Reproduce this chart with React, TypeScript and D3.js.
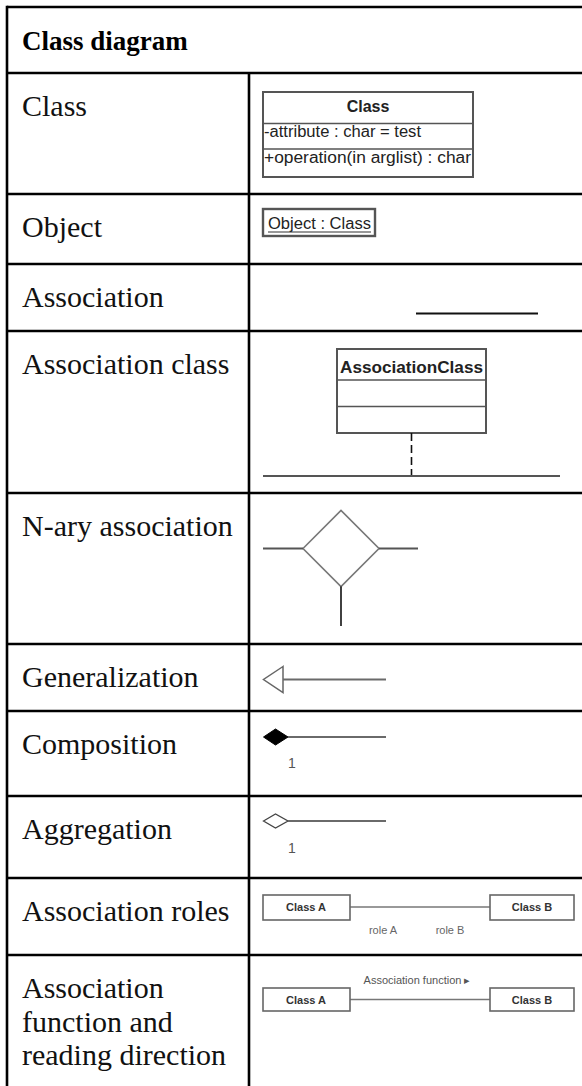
import React, { useEffect } from 'react';
import * as d3 from 'd3';

// table content
const title = 'Class diagram';
const rowLabels = [
  'Class',
  'Object',
  'Association',
  'Association class',
  'N-ary association',
  'Generalization',
  'Composition',
  'Aggregation',
  'Association roles',
  'Association\nfunction and\nreading direction',
];
const classParts = ['Class', '-attribute : char = test', '+operation(in arglist) : char'];
const objectName = 'Object : Class';
const assocClassName = 'AssociationClass';
const multiplicity = ['1', '1'];
const roleClasses = ['Class A', 'Class B'];
const roleNames = ['role A', 'role B'];
const assocFunction = 'Association function \u25B8';

// layout
const W = 582;
const H = 1086;
const tableLeft = 7;
const tableTop = 7;
const colX = 249;
const rowTops = [73, 194, 264, 331, 493, 644, 711, 796, 878, 955];
const x0 = 263; // left of the diagram column content

const serif = '"Liberation Serif", "Times New Roman", serif';
const sans = '"Liberation Sans", Arial, sans-serif';
const grey = '#6a6a6a';

const line = d3.line<[number, number]>();

const App = () => {
  useEffect(() => {
    document.body.style.margin = '0';
  }, []);

  const y = (i: number) => rowTops[i];

  return (
    <svg width={W} height={H} style={{ display: 'block', background: '#fff' }}>
      {/* grid */}
      <g stroke="#000" strokeWidth={2.6}>
        <line x1={tableLeft} x2={W} y1={tableTop} y2={tableTop} />
        {rowTops.map((t) => (
          <line key={t} x1={tableLeft} x2={W} y1={t} y2={t} />
        ))}
        <line x1={tableLeft} x2={tableLeft} y1={tableTop - 1.3} y2={H} />
        <line x1={colX} x2={colX} y1={rowTops[0]} y2={H} />
      </g>

      <text x={22} y={tableTop + 43} fontFamily={serif} fontWeight="bold" fontSize={27}>
        {title}
      </text>
      {rowLabels.map((lab, i) => (
        <text key={i} x={22} y={y(i) + 43} fontFamily={serif} fontSize={30} fill="#111">
          {lab.split('\n').map((s, j) => (
            <tspan key={j} x={22} dy={j === 0 ? 0 : 33.5}>
              {s}
            </tspan>
          ))}
        </text>
      ))}

      <g fontFamily={sans} fill="#222">
        {/* Class */}
        <g transform={`translate(${x0},${y(0)})`}>
          <rect x={0} y={19} width={210} height={85} fill="#fff" stroke="#555" strokeWidth={2} />
          <line x1={0} x2={210} y1={50.5} y2={50.5} stroke="#555" strokeWidth={1.6} />
          <line x1={0} x2={210} y1={76} y2={76} stroke="#555" strokeWidth={1.6} />
          <text x={105} y={39} textAnchor="middle" fontWeight="bold" fontSize={16}>
            {classParts[0]}
          </text>
          <text x={1} y={64} fontSize={16} textLength={157} lengthAdjust="spacingAndGlyphs">
            {classParts[1]}
          </text>
          <text x={1} y={90} fontSize={16} textLength={207} lengthAdjust="spacingAndGlyphs">
            {classParts[2]}
          </text>
        </g>

        {/* Object */}
        <g transform={`translate(${x0},${y(1)})`}>
          <rect x={0} y={15} width={112} height={27} fill="#fff" stroke="#555" strokeWidth={2.4} />
          <text x={5} y={35} fontSize={16} textLength={103} lengthAdjust="spacingAndGlyphs">
            {objectName}
          </text>
          <line x1={5} x2={108} y1={38} y2={38} stroke="#333" strokeWidth={1.2} />
        </g>

        {/* Association */}
        <g transform={`translate(${x0},${y(2)})`}>
          <line x1={153} x2={275} y1={49.5} y2={49.5} stroke="#111" strokeWidth={2} />
        </g>

        {/* Association class */}
        <g transform={`translate(${x0},${y(3)})`}>
          <rect x={74} y={18} width={149} height={84} fill="#fff" stroke="#555" strokeWidth={2} />
          <line x1={74} x2={223} y1={49} y2={49} stroke="#555" strokeWidth={1.6} />
          <line x1={74} x2={223} y1={75.5} y2={75.5} stroke="#555" strokeWidth={1.6} />
          <text x={148.5} y={42} textAnchor="middle" fontWeight="bold" fontSize={17} textLength={143} lengthAdjust="spacingAndGlyphs">
            {assocClassName}
          </text>
          <line x1={148.5} x2={148.5} y1={102} y2={145} stroke="#111" strokeWidth={1.6} strokeDasharray="8,4" />
          <line x1={0} x2={297} y1={145} y2={145} stroke="#555" strokeWidth={2} />
        </g>

        {/* N-ary association */}
        <g transform={`translate(${x0},${y(4)})`}>
          <path
            d={line([[40, 55.5], [78, 17.5], [116, 55.5], [78, 93.5]]) + 'Z'}
            fill="#fff"
            stroke="#777"
            strokeWidth={1.6}
          />
          <line x1={0} x2={40} y1={55.5} y2={55.5} stroke="#555" strokeWidth={2} />
          <line x1={116} x2={155} y1={55.5} y2={55.5} stroke="#555" strokeWidth={2} />
          <line x1={78} x2={78} y1={93.5} y2={133} stroke="#111" strokeWidth={1.6} />
        </g>

        {/* Generalization */}
        <g transform={`translate(${x0},${y(5)})`}>
          <path
            d={line([[20, 22.5], [0.5, 35.5], [20, 48.5]]) + 'Z'}
            fill="#fff"
            stroke="#666"
            strokeWidth={1.5}
          />
          <line x1={20} x2={123} y1={35.5} y2={35.5} stroke={grey} strokeWidth={2} />
        </g>

        {/* Composition */}
        <g transform={`translate(${x0},${y(6)})`}>
          <path d={line([[0.5, 26], [12.5, 18], [25, 26], [12.5, 34]]) + 'Z'} fill="#000" stroke="#000" strokeWidth={1} />
          <line x1={25} x2={123} y1={26} y2={26} stroke={grey} strokeWidth={2} />
          <text x={25} y={57} fontSize={14} fill="#555">
            {multiplicity[0]}
          </text>
        </g>

        {/* Aggregation */}
        <g transform={`translate(${x0},${y(7)})`}>
          <path d={line([[0.5, 25], [12.5, 18], [25, 25], [12.5, 32]]) + 'Z'} fill="#fff" stroke="#444" strokeWidth={1.3} />
          <line x1={25} x2={123} y1={25} y2={25} stroke={grey} strokeWidth={2} />
          <text x={25} y={57} fontSize={14} fill="#555">
            {multiplicity[1]}
          </text>
        </g>

        {/* Association roles */}
        <g transform={`translate(${x0},${y(8)})`}>
          <line x1={87} x2={227} y1={29} y2={29} stroke="#777" strokeWidth={1.3} />
          <rect x={0} y={17} width={87} height={25} fill="#fff" stroke="#666" strokeWidth={1.6} />
          <rect x={227} y={17} width={84} height={25} fill="#fff" stroke="#666" strokeWidth={1.6} />
          <text x={43} y={33} textAnchor="middle" fontWeight="bold" fontSize={11} fill="#333">
            {roleClasses[0]}
          </text>
          <text x={269} y={33} textAnchor="middle" fontWeight="bold" fontSize={11} fill="#333">
            {roleClasses[1]}
          </text>
          <text x={120} y={56} textAnchor="middle" fontSize={11} fill="#666">
            {roleNames[0]}
          </text>
          <text x={187} y={56} textAnchor="middle" fontSize={11} fill="#666">
            {roleNames[1]}
          </text>
        </g>

        {/* Association function and reading direction */}
        <g transform={`translate(${x0},${y(9)})`}>
          <line x1={87} x2={227} y1={44.5} y2={44.5} stroke="#777" strokeWidth={1.3} />
          <rect x={0} y={33} width={87} height={23} fill="#fff" stroke="#666" strokeWidth={1.6} />
          <rect x={227} y={33} width={84} height={23} fill="#fff" stroke="#666" strokeWidth={1.6} />
          <text x={43} y={48.5} textAnchor="middle" fontWeight="bold" fontSize={11} fill="#333">
            {roleClasses[0]}
          </text>
          <text x={269} y={48.5} textAnchor="middle" fontWeight="bold" fontSize={11} fill="#333">
            {roleClasses[1]}
          </text>
          <text x={154} y={29} textAnchor="middle" fontSize={11} fill="#555">
            {assocFunction}
          </text>
        </g>
      </g>
    </svg>
  );
};

export default App;
